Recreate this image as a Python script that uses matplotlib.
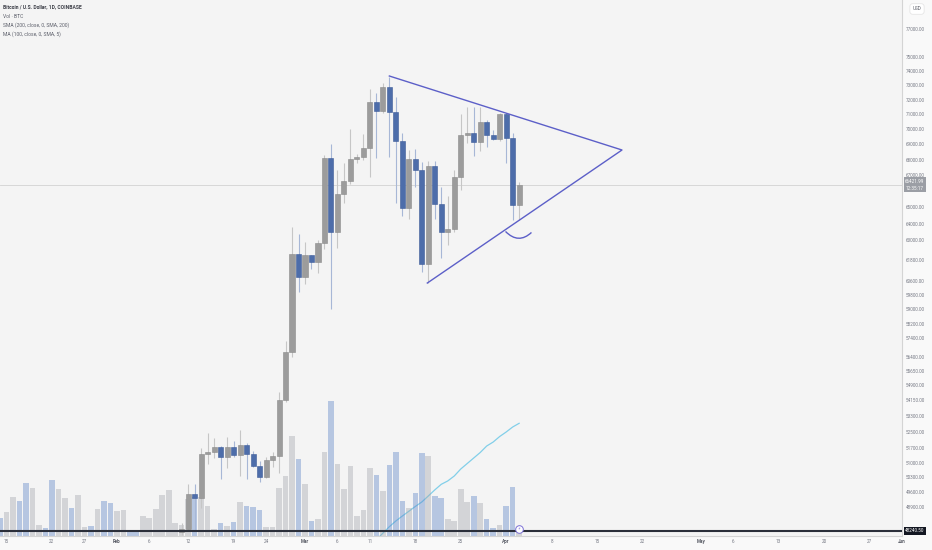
import numpy as np
import pandas as pd
import matplotlib
matplotlib.use("Agg")
import matplotlib.pyplot as plt
import matplotlib.dates as mdates
from matplotlib.colors import to_rgba
from matplotlib.path import Path
from matplotlib.patches import PathPatch
from matplotlib.ticker import NullLocator, NullFormatter

plt.rcParams["font.family"] = ["Roboto", "DejaVu Sans"]

# daily candles, Feb 11 - Apr 3 2024
candle_dates = pd.date_range("2024-02-11", "2024-04-03", freq="D")
opens = [47755, 47890, 49509, 49307, 51426, 51523, 51754, 51265, 51754, 51377,
         51852, 51426, 50843, 50329, 51133, 51328, 54132, 56673, 62183,
         60822, 62124, 61729, 62853, 68100, 63478, 65830, 66648, 68035, 68203,
         68746, 71862, 71218, 72895, 71141, 69248, 64960, 68055, 67348, 61595,
         67604, 65208, 63514, 63678, 66921, 69624, 69779, 69143, 70509, 69624,
         69360, 71027, 69406, 65145]
highs = [48164, 49967, 49967, 51705, 52477, 52213, 51800, 52263, 52080, 52611,
         51982, 51587, 51099, 51295, 51537, 54561, 57268, 63817, 63376,
         62913, 62150, 63016, 68316, 69023, 67348, 67816, 70040, 68358, 69688,
         72726, 72437, 73137, 73596, 72183, 69775, 68639, 68685, 67881, 67946,
         67946, 66288, 65705, 67348, 71027, 71514, 71514, 71480, 70623, 69955,
         71115, 71115, 69733, 66600]
lows = [47620, 47800, 47845, 48855, 50940, 51216, 50219, 50761, 51265, 50362,
        50219, 50780, 50090, 50252, 50810, 50491, 54030, 56388, 59995,
        60436, 61286, 61054, 62500, 59018, 62521, 65289, 66459, 67778, 67990,
        66882, 68096, 71080, 68203, 65250, 64469, 64267, 66288, 61146, 60476,
        64267, 61930, 62717, 63514, 66080, 69077, 68226, 68593, 68857, 69294,
        69261, 67816, 64224, 64224]
closes = [47890, 49509, 49307, 51426, 51523, 51754, 51265, 51754, 51377, 51852,
          51426, 50843, 50329, 51133, 51328, 54132, 56673, 62183, 60822,
          62124, 61729, 62853, 68100, 63478, 65830, 66648, 68035, 68203, 68746,
          71862, 71218, 72895, 71141, 69248, 64960, 68055, 67348, 61595, 67604,
          65208, 63514, 63678, 66921, 69624, 69779, 69143, 70509, 69624, 69360,
          71027, 69406, 65145, 66421.99]

# volume (BTC), Jan 14 - Apr 3
vol_dates = pd.date_range("2024-01-14", "2024-04-03", freq="D")
volumes = [5940, 7920, 12870, 11550, 17490, 15840, 3630, 2640, 18480, 15510,
           12540, 9240, 13530, 2970, 3300, 8910, 11550, 10890,
           8250, 8580, 1650, 1650, 6600, 5940, 8910, 13530, 15180, 4290, 3630,
           12210, 12870, 12870, 9900, 2310, 4290, 3300, 4620, 11220, 9900, 9570,
           8580, 2970, 2970, 15840, 19800, 33000, 25410,
           17160, 4950, 5610, 27720, 44550, 23760, 15510, 23100, 6600, 8580,
           22440, 20130, 14850, 23430, 27720, 11550, 9240, 14190, 27390, 26400,
           13200, 12540, 5610, 4950, 15510, 11220, 13200, 10890, 5610, 2640, 3630,
           9900, 16170, 1650]
# up/down of the days before the first visible candle (Jan 14 - Feb 10)
early_up = [0, 1, 1, 0, 0, 1, 1, 0, 0, 1, 1, 0, 1, 1, 0, 1, 0, 0,
            1, 1, 0, 0, 1, 1, 1, 1, 1, 1]

# SMA (200) line
sma_dates = pd.date_range("2024-03-12", "2024-04-03", freq="D")
sma_values = [47400, 47695, 47990, 48251, 48480, 48698, 48921, 49130, 49410,
              49697, 49963, 50122, 50357, 50693, 50959, 51226, 51494, 51813,
              52010, 52283, 52507, 52757, 52943]

# triangle drawing and the little arc
tri_dates = pd.to_datetime(["2024-03-14 00:00", "2024-04-18 20:24", "2024-03-19 20:24"])
tri_prices = [73637, 68639, 60490]
arc_dates = pd.to_datetime(["2024-03-31 21:36", "2024-04-02 21:36", "2024-04-04 21:36"])
arc_prices = [63527, 62740, 63467]

current_price = 66421.99
countdown = "12:35:17"
bottom_level = 47800
bottom_label = "48240.50"

price_ticks = [77000, 75000, 74000, 73000, 72000, 71000, 70000, 69000, 68000,
               67000, 65000, 64000, 63000, 61800, 60600, 59800, 59000, 58200,
               57400, 56400, 55650, 54900, 54150, 53300, 52500, 51700, 51000,
               50300, 49600, 48900]
date_ticks = ["2024-01-15", "2024-01-22", "2024-01-27", "2024-02-01", "2024-02-06",
              "2024-02-12", "2024-02-19", "2024-02-24", "2024-03-01", "2024-03-06",
              "2024-03-11", "2024-03-18", "2024-03-25", "2024-04-01", "2024-04-08",
              "2024-04-15", "2024-04-22", "2024-05-01", "2024-05-06", "2024-05-13",
              "2024-05-20", "2024-05-27", "2024-06-01"]
date_labels = ["15", "22", "27", "Feb", "6", "12", "19", "24", "Mar", "6", "11",
               "18", "25", "Apr", "8", "15", "22", "May", "6", "13", "20", "27", "Jun"]
months = {"Feb", "Mar", "Apr", "May", "Jun"}

bg = "#f4f4f4"
up_body, up_edge, up_wick = "#9c9c9c", "#8a8a8a", "#c6c6c6"
dn_body, dn_edge, dn_wick = "#4d6daa", "#3d5b98", "#a7b7d6"
vol_up_c = to_rgba("#9fa2a9", 0.38)
vol_dn_c = to_rgba("#5b82c6", 0.4)
draw_c = "#5c5fc8"
label_c = "#787b86"

fig = plt.figure(figsize=(9.32, 5.5), dpi=100, facecolor="#f9f9f9")
rect = [0, 14 / 550, 902 / 932, 536 / 550]
ax_sma = fig.add_axes(rect, facecolor=bg)
ax_vol = fig.add_axes(rect, sharex=ax_sma, facecolor="none")
ax = fig.add_axes(rect, sharex=ax_sma, sharey=ax_sma, facecolor="none")

ax.set_yscale("log")
ax.set_ylim(47568, 79151)
ax.set_xlim(mdates.date2num(pd.Timestamp("2024-01-14")),
            mdates.date2num(pd.Timestamp("2024-06-01")))

# volume
cx = mdates.date2num(candle_dates)
o = np.array(opens); h = np.array(highs); l = np.array(lows); c = np.array(closes)
up = c >= o
vol_up = list(early_up) + [int(u) for u in up]
vx = mdates.date2num(vol_dates)
ax_vol.bar(vx, volumes, width=0.86, color=[vol_up_c if u else vol_dn_c for u in vol_up],
           linewidth=0)
ax_vol.set_ylim(0, 536 * 330)
ax_vol.axis("off")

# SMA under the volume bars
ax_sma.plot(mdates.date2num(sma_dates), sma_values, color="#82cfe9", lw=0.9)
ax_sma.tick_params(left=False, bottom=False, labelleft=False, labelbottom=False)
for s in ax_sma.spines.values():
    s.set_visible(False)

# candles
ax.axhline(current_price, color="#d2d2d2", lw=0.6, zorder=1)
body_lo = np.minimum(o, c)
body_h = np.maximum(np.abs(c - o), body_lo * 0.0012)
ax.vlines(cx, l, h, colors=[up_wick if u else dn_wick for u in up], lw=0.8, zorder=2)
ax.bar(cx, body_h, bottom=body_lo, width=0.78,
       color=[up_body if u else dn_body for u in up],
       edgecolor=[up_edge if u else dn_edge for u in up], linewidth=0.4, zorder=3)

# drawings
ax.plot(mdates.date2num(tri_dates), tri_prices, color=draw_c, lw=1.0, zorder=4)
arc_pts = list(zip(mdates.date2num(arc_dates), arc_prices))
ax.add_patch(PathPatch(Path(arc_pts, [Path.MOVETO, Path.CURVE3, Path.CURVE3]),
                       fill=False, edgecolor=draw_c, lw=1.0, zorder=4))
ax.axhline(bottom_level, color="#2b2f3a", lw=1.5, zorder=5)
ax.plot([cx[-1]], [47880], marker="o", ms=5.5, mfc="white", mec="#7b6fd6", mew=0.7,
        zorder=6, clip_on=False)
ax.text(cx[-1], 47880, "\u26a1", fontsize=3, color="#7b6fd6", ha="center", va="center",
        family=["DejaVu Sans"], zorder=7)

# price axis
ax.yaxis.tick_right()
ax.set_yticks(price_ticks)
ax.set_yticklabels([f"{v:.2f}" for v in price_ticks])
ax.yaxis.set_minor_locator(NullLocator())
ax.yaxis.set_minor_formatter(NullFormatter())
ax.tick_params(axis="y", length=0, pad=3.0, labelsize=3.3, labelcolor=label_c)

ax.set_xticks(mdates.date2num(pd.to_datetime(date_ticks)))
ax.set_xticklabels(date_labels)
ax.tick_params(axis="x", length=0, pad=2.5, labelsize=3.3, labelcolor=label_c)
for t in ax.get_xticklabels():
    if t.get_text() in months:
        t.set_fontweight("bold")
        t.set_color("#555862")

for side in ["top", "left"]:
    ax.spines[side].set_visible(False)
for side in ["right", "bottom"]:
    ax.spines[side].set_color("#d4d4d4")
    ax.spines[side].set_linewidth(0.8)

ax.text(1.0035, current_price, f"{current_price:.2f}\n{countdown}",
        transform=ax.get_yaxis_transform(), fontsize=3.3, color="white",
        ha="left", va="center", linespacing=1.5, clip_on=False,
        bbox=dict(boxstyle="square,pad=0.35", fc="#9b9ea5", ec="none"))
ax.text(1.0035, bottom_level, bottom_label, transform=ax.get_yaxis_transform(),
        fontsize=3.3, color="white", ha="left", va="center", clip_on=False,
        bbox=dict(boxstyle="square,pad=0.35", fc="#131722", ec="none"))

fig.text(917 / 932, 1 - 9 / 550, "USD", fontsize=3.3, color="#555862",
         ha="center", va="center",
         bbox=dict(boxstyle="round,pad=0.6", fc="white", ec="#e2e2e2", lw=0.5))

header = ["Bitcoin / U.S. Dollar, 1D, COINBASE", "Vol \u00b7 BTC",
          "SMA (200, close, 0, SMA, 200)", "MA (100, close, 0, SMA, 5)"]
for i, line in enumerate(header):
    fig.text(3 / 932, 1 - (7 + 9 * i) / 550, line, fontsize=3.6,
             color="#3e4049" if i == 0 else "#5d606b",
             fontweight="bold" if i == 0 else "normal", ha="left", va="center")

fig.savefig("out.png", dpi=100, facecolor=fig.get_facecolor())
